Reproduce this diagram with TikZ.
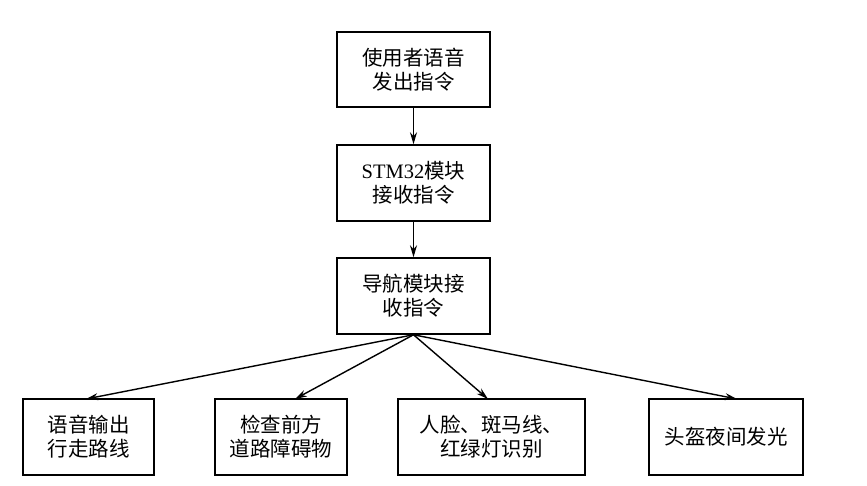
\documentclass[tikz,border=0pt]{standalone}
\usepackage{fontspec}
\setmainfont{Liberation Serif}
\newfontfamily\cjk{Noto Sans CJK SC}
\usetikzlibrary{arrows.meta}
\begin{document}
\begin{tikzpicture}[x=1pt,y=-1pt,
  box/.style={draw,line width=1.5pt,inner sep=0pt,align=center,font=\cjk\fontsize{20.5}{24}\selectfont},
  arr/.style={line width=1.4pt,-{Stealth[length=12pt,width=7pt]}}]
\useasboundingbox (0,0) rectangle (867,485);
\node[box,minimum width=153pt,minimum height=75pt] (a) at (413.5,69.5) {使用者语音\\发出指令};
\node[box,minimum width=153pt,minimum height=76pt] (b) at (413.5,183) {{\rmfamily STM32}模块\\接收指令};
\node[box,minimum width=153pt,minimum height=76pt] (c) at (413.5,296) {导航模块接\\收指令};
\node[box,minimum width=131pt,minimum height=76pt] (d1) at (88.5,437) {语音输出\\行走路线};
\node[box,minimum width=132pt,minimum height=76pt] (d2) at (281,437) {检查前方\\道路障碍物};
\node[box,minimum width=187pt,minimum height=76pt] (d3) at (491.5,437) {人脸、斑马线、\\红绿灯识别};
\node[box,minimum width=154pt,minimum height=76pt] (d4) at (726,437) {头盔夜间发光};
\coordinate (c0) at (c.south);
\draw[arr] (a.south) -- (b.north);
\draw[arr] (b.south) -- (c.north);
\draw[arr] (c0) -- (86,399);
\draw[arr] (c0) -- (295,399);
\draw[arr] (c0) -- (488,399);
\draw[arr] (c0) -- (737,399);
\end{tikzpicture}
\end{document}
